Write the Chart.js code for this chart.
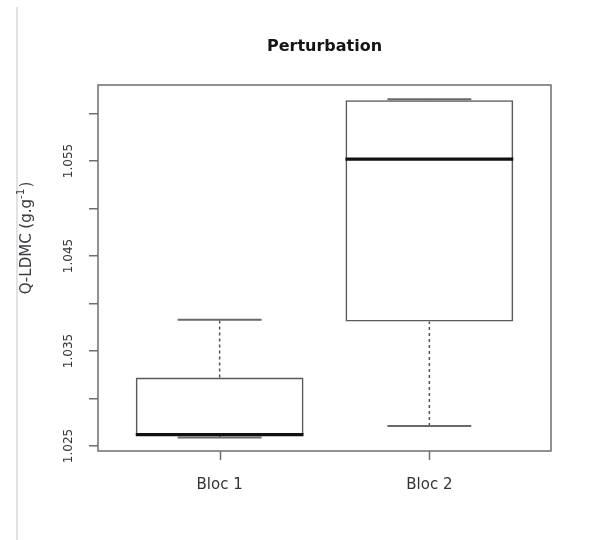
<!DOCTYPE html>
<html><head><meta charset="utf-8">
<script src="https://cdn.jsdelivr.net/npm/chart.js@4.4.1/dist/chart.umd.min.js"></script>
<style>
html,body{margin:0;padding:0;background:#fff;}
#wrap{position:relative;width:601px;height:540px;overflow:hidden;}
#edge{position:absolute;left:16px;top:7px;width:2px;height:533px;background:#e2e2e2;}
canvas{position:absolute;left:0;top:0;}
</style></head><body>
<div id="wrap"><div id="edge"></div><canvas id="c" width="601" height="540"></canvas></div>
<script>
// ---- data ----
const categories = ['Bloc 1', 'Bloc 2'];
const positions = [1, 2];
const whiskerLow = [1.0259, 1.0271];
const q1 = [1.0262, 1.0381];
const medians = [1.0262, 1.0552];
const q3 = [1.0322, 1.0614];
const whiskerHigh = [1.0383, 1.0615];
const yTicks = [1.025, 1.030, 1.035, 1.040, 1.045, 1.050, 1.055, 1.060];
const yTickLabels = ['1.025', '', '1.035', '', '1.045', '', '1.055', ''];
const chartTitle = 'Perturbation';
const yTitleMain = 'Q-LDMC (g.g';
const yTitleSup = '-1';
const yTitleEnd = ')';

// ---- build datasets ----
const BOX_HALF = 0.4, CAP_HALF = 0.2;
function segs(list) {
  const out = [];
  list.forEach((s, i) => {
    if (i > 0) out.push({x: (s[0] + list[i-1][2]) / 2, y: null});
    out.push({x: s[0], y: s[1]}, {x: s[2], y: s[3]});
  });
  return out;
}
const whiskerSegs = [], capSegs = [], medianSegs = [];
positions.forEach((p, i) => {
  whiskerSegs.push([p, q3[i], p, whiskerHigh[i]]);
  whiskerSegs.push([p, whiskerLow[i], p, q1[i]]);
  capSegs.push([p - CAP_HALF, whiskerHigh[i], p + CAP_HALF, whiskerHigh[i]]);
  capSegs.push([p - CAP_HALF, whiskerLow[i], p + CAP_HALF, whiskerLow[i]]);
  medianSegs.push([p - BOX_HALF, medians[i], p + BOX_HALF, medians[i]]);
});

const frame = {
  id: 'frame',
  afterDraw(chart) {
    const {ctx, chartArea: a} = chart;
    const xs = chart.scales.x;
    ctx.save();
    ctx.strokeStyle = '#6e6e6e';
    ctx.lineWidth = 1.5;
    ctx.strokeRect(a.left, a.top, a.right - a.left, a.bottom - a.top);
    // x axis tick marks at each category position
    ctx.beginPath();
    positions.forEach(p => {
      const px = Math.round(xs.getPixelForValue(p)) + 0.5;
      ctx.moveTo(px, a.bottom); ctx.lineTo(px, a.bottom + 9);
    });
    ctx.stroke();
    // main title, centred over the plot region
    ctx.font = 'bold 16px "DejaVu Sans"';
    ctx.fillStyle = '#151515';
    ctx.textAlign = 'center';
    ctx.textBaseline = 'middle';
    ctx.fillText(chartTitle, (a.left + a.right) / 2, 47);
    // y axis title with superscript
    const cx = 27, cy = 238;
    const f1 = '15px "DejaVu Sans"', f2 = '10.5px "DejaVu Sans"';
    ctx.font = f1; const w1 = ctx.measureText(yTitleMain).width; const w3 = ctx.measureText(yTitleEnd).width;
    ctx.font = f2; const w2 = ctx.measureText(yTitleSup).width;
    const total = w1 + w2 + 1 + w3;
    ctx.translate(cx, cy);
    ctx.rotate(-Math.PI / 2);
    ctx.fillStyle = '#3a3a40';
    ctx.textBaseline = 'middle';
    ctx.textAlign = 'left';
    let x = -total / 2;
    ctx.font = f1; ctx.fillText(yTitleMain, x, 0); x += w1;
    ctx.font = f2; ctx.fillText(yTitleSup, x, -6); x += w2 + 1;
    ctx.font = f1; ctx.fillText(yTitleEnd, x, 0);
    ctx.restore();
  }
};

new Chart(document.getElementById('c'), {
  type: 'bar',
  data: {
    datasets: [
      {type: 'line', data: segs(medianSegs), borderColor: '#111', borderWidth: 3.2,
       pointRadius: 0, spanGaps: false, fill: false, order: 0, borderCapStyle: 'butt'},
      {type: 'line', data: segs(capSegs), borderColor: '#6a6a6a', borderWidth: 2,
       pointRadius: 0, spanGaps: false, fill: false, order: 1},
      {type: 'line', data: segs(whiskerSegs), borderColor: '#555', borderWidth: 1.5, borderDash: [3, 3],
       pointRadius: 0, spanGaps: false, fill: false, order: 2},
      {type: 'bar', data: positions.map((p, i) => ({x: p, y: [q1[i], q3[i]]})),
       backgroundColor: 'rgba(255,255,255,0)', borderColor: '#5a5a5a', borderWidth: 1.6,
       borderSkipped: false, barPercentage: 0.8, categoryPercentage: 1.0, order: 3}
    ]
  },
  options: {
    responsive: false,
    animation: false,
    events: [],
    layout: {padding: {left: 0, right: 50, top: 85, bottom: 0}},
    plugins: {
      legend: {display: false},
      tooltip: {enabled: false},
      title: {display: false}
    },
    scales: {
      x: {
        type: 'linear', min: 0.42, max: 2.58, offset: false,
        afterBuildTicks: s => { s.ticks = positions.map(v => ({value: v})); },
        afterFit: s => { s.height = 89; },
        ticks: {callback: (v, i) => categories[i], autoSkip: false, padding: 16,
          color: '#333', font: {family: 'DejaVu Sans', size: 15}},
        grid: {display: false, offset: false, drawOnChartArea: false, drawTicks: true, tickLength: 9},
        border: {display: false}
      },
      y: {
        type: 'linear', min: 1.02447, max: 1.0630,
        afterBuildTicks: s => { s.ticks = yTicks.map(v => ({value: v})); },
        afterFit: s => { s.width = 98; },
        ticks: {callback: (v, i) => yTickLabels[i], autoSkip: false, minRotation: 90, maxRotation: 90,
          crossAlign: 'center', padding: 3, color: '#333', font: {family: 'DejaVu Sans', size: 12}},
        grid: {display: true, drawOnChartArea: false, drawTicks: true, tickLength: 9, color: '#6e6e6e', lineWidth: 1.5},
        border: {display: false}
      }
    }
  },
  plugins: [frame]
});
</script>
</body></html>
